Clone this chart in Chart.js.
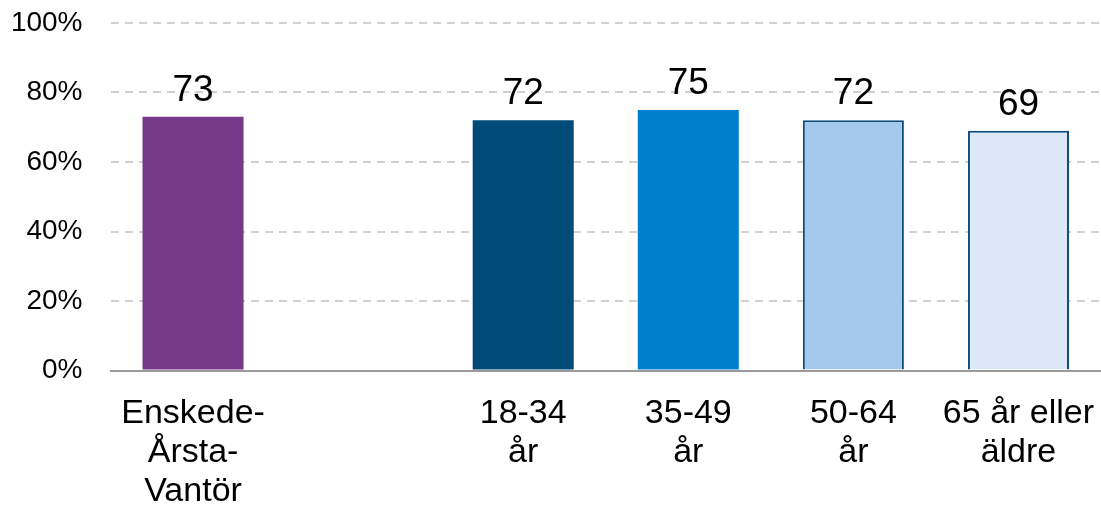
<!DOCTYPE html>
<html>
<head>
<meta charset="utf-8">
<script src="https://cdn.jsdelivr.net/npm/chart.js@4/dist/chart.umd.min.js"></script>
<style>
  html, body { margin: 0; padding: 0; background: #fff; }
  #wrap { width: 1101px; height: 508px; position: relative; }
</style>
</head>
<body>
<div id="wrap"><canvas id="c" width="1101" height="508"></canvas></div>
<script>
const categories = [
  ["Enskede-", "Årsta-", "Vantör"],
  "",
  ["18-34", "år"],
  ["35-49", "år"],
  ["50-64", "år"],
  ["65 år eller", "äldre"]
];
const values = [73, null, 72, 75, 72, 69];
const barColors = ["#763889", "#ffffff", "#004B78", "#0080CC", "#A5C9EC", "#DCE7F7"];
const barBorderColors = ["#763889", "#ffffff", "#004B78", "#0080CC", "#0D4C7B", "#0D4C7B"];
const barBorderWidths = [0, 0, 0, 0, 2, 2];
const yTicks = [0, 20, 40, 60, 80, 100];

const FONT = "'Liberation Sans', Arial, sans-serif";

const valueLabels = {
  id: 'valueLabels',
  afterDatasetsDraw(chart) {
    const ctx = chart.ctx;
    const meta = chart.getDatasetMeta(0);
    ctx.save();
    ctx.font = "37px " + FONT;
    ctx.fillStyle = "#000";
    ctx.textAlign = "center";
    ctx.textBaseline = "alphabetic";
    meta.data.forEach((el, i) => {
      const v = chart.data.datasets[0].data[i];
      if (v === null || v === undefined) return;
      ctx.fillText(String(v), el.x, el.y - 16);
    });
    ctx.restore();
  }
};

new Chart(document.getElementById('c'), {
  type: 'bar',
  data: {
    labels: categories,
    datasets: [{
      data: values,
      backgroundColor: barColors,
      borderColor: barBorderColors,
      borderWidth: barBorderWidths,
      barPercentage: 0.612,
      categoryPercentage: 1.0
    }]
  },
  options: {
    responsive: false,
    animation: false,
    devicePixelRatio: 1,
    layout: { padding: { top: 23, right: 0, left: 0, bottom: 0 } },
    plugins: {
      legend: { display: false },
      tooltip: { enabled: false }
    },
    scales: {
      x: {
        offset: true,
        grid: { display: false, drawTicks: false },
        border: { display: true, color: "#9A9A9A", width: 2 },
        ticks: {
          color: "#000",
          font: { family: FONT, size: 34, lineHeight: 1.15 },
          padding: 23.5,
          maxRotation: 0,
          autoSkip: false
        },
        afterFit(scale) {
          scale.height = 137.5;
          scale.paddingLeft = 0;
          scale.paddingRight = 0;
        }
      },
      y: {
        min: 0,
        max: 100,
        afterBuildTicks(scale) { scale.ticks = yTicks.map(v => ({ value: v })); },
        ticks: {
          color: "#000",
          font: { family: FONT, size: 28 },
          padding: 28,
          callback: v => v + "%"
        },
        grid: {
          drawTicks: false,
          color: ctx => ctx.tick && ctx.tick.value === 0 ? "rgba(0,0,0,0)" : "#D0D0D0",
          lineWidth: 2
        },
        border: { display: false, dash: [8, 6] },
        afterFit(scale) {
          scale.width = 110.5;
          scale.paddingTop = 0;
          scale.paddingBottom = 0;
        }
      }
    }
  },
  plugins: [valueLabels]
});
</script>
</body>
</html>
